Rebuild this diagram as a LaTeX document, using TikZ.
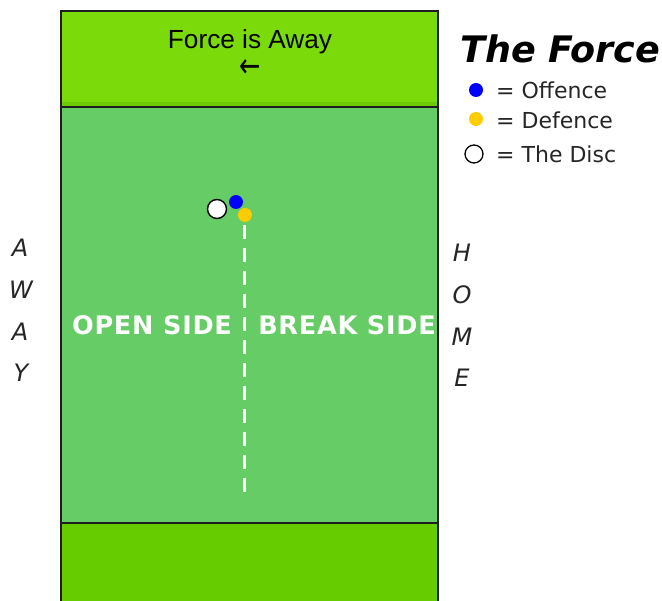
\documentclass[tikz,border=0pt]{standalone}
\usepackage{fontspec}
\setmainfont{DejaVu Sans}
\newfontfamily\arialf{Liberation Sans}
\newfontfamily\dvs{DejaVu Sans}
\newfontfamily\dvswide[LetterSpace=3]{DejaVu Sans}
\definecolor{endtop}{RGB}{122,218,10}
\definecolor{endband}{RGB}{108,202,6}
\definecolor{endbot}{RGB}{102,204,0}
\definecolor{midfield}{RGB}{102,204,102}
\definecolor{offblue}{RGB}{0,0,255}
\definecolor{defyellow}{RGB}{255,204,0}
\definecolor{borderc}{RGB}{30,30,30}
\tikzset{
  zone/.style={draw=borderc, line width=1.6pt},
  sideletter/.style={font=\dvs\itshape\fontsize{24}{24}\selectfont, inner sep=0pt, text=black!85},
  sidelabel/.style={font=\dvswide\bfseries\fontsize{25.5}{25.5}\selectfont, text=white, inner sep=0pt},
  legtext/.style={font=\dvs\fontsize{22}{22}\selectfont, anchor=west, inner sep=0pt, text=black!85},
  offdot/.style={circle, fill=offblue, minimum size=14pt, inner sep=0pt},
  defdot/.style={circle, fill=defyellow, minimum size=14pt, inner sep=0pt},
  discdot/.style={circle, draw=black, line width=1.4pt, fill=white, minimum size=19pt, inner sep=0pt},
  markline/.style={white, line width=3pt, dash pattern=on 14pt off 9pt}
}
\begin{document}
\begin{tikzpicture}[x=1pt, y=-1pt]
\useasboundingbox (0,0) rectangle (662,601);
% field zones
\fill[endtop] (61,11) rectangle (438,107);
\fill[endband] (61,102) rectangle (438,107);
\fill[midfield] (61,107) rectangle (438,523);
\fill[endbot] (61,523) rectangle (438,601);
\draw[zone] (61,601) -- (61,11) -- (438,11) -- (438,601);
\draw[zone] (61,107) -- (438,107);
\draw[zone] (61,523) -- (438,523);
% top text
\node[font=\arialf\fontsize{26.2}{26.2}\selectfont, inner sep=0pt] (forcetxt) at (250,42) {Force is Away};
\node[font=\dvs\fontsize{34}{34}\selectfont, inner sep=0pt, text height=14pt, text depth=0pt] (forcearrow) at (250,71) {\scalebox{0.75}[1]{←}};
% mark line
\coordinate (lstart) at (244,225);
\coordinate (lend) at (244,495);
\draw[markline] (lstart) -- (lend);
% players
\node[offdot] (offence) at (236,202) {};
\node[defdot] (defence) at (245,215) {};
\node[discdot] (disc) at (217,209) {};
% side labels
\node[sidelabel] (open) at (152,325) {OPEN SIDE};
\node[sidelabel] (break) at (347,325) {BREAK SIDE};
% away / home letters
\node[sideletter] (a1) at (20,248) {A};
\node[sideletter] (a2) at (21,290) {W};
\node[sideletter] (a3) at (20,332) {A};
\node[sideletter] (a4) at (21,373) {Y};
\node[sideletter] (h1) at (462,253) {H};
\node[sideletter] (h2) at (462,295) {O};
\node[sideletter] (h3) at (462,337) {M};
\node[sideletter] (h4) at (462,378) {E};
% legend
\node[font=\dvs\bfseries\itshape\fontsize{36.5}{36.5}\selectfont, anchor=west, inner sep=0pt] (title) at (460,49) {The Force};
\node[offdot] (legoff) at (476,90) {};
\node[defdot] (legdef) at (476,119) {};
\node[discdot, minimum size=18pt, line width=1.3pt] (legdisc) at (474,154) {};
\node[legtext] (tx1) at (496,90) {= Offence};
\node[legtext] (tx2) at (496,120) {= Defence};
\node[legtext] (tx3) at (496,154) {= The Disc};
\end{tikzpicture}
\end{document}
